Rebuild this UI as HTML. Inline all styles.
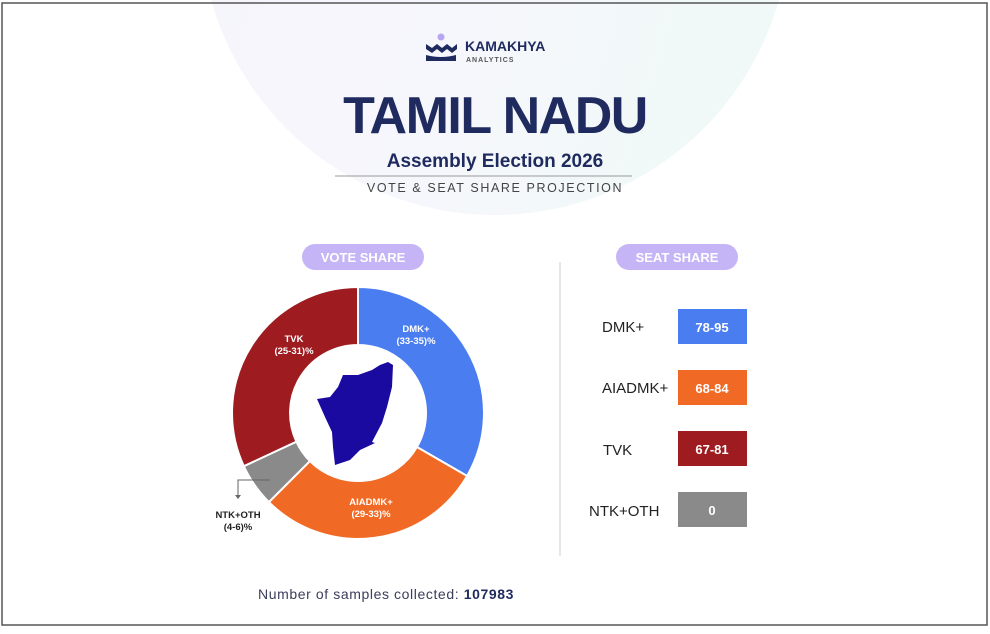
<!DOCTYPE html>
<html><head><meta charset="utf-8"><style>
body{margin:0;width:990px;height:629px;overflow:hidden;background:#fff;font-family:"Liberation Sans",sans-serif}
</style></head><body>
<svg width="990" height="629" viewBox="0 0 990 629" xmlns="http://www.w3.org/2000/svg" font-family="Liberation Sans, sans-serif">
<defs>
<linearGradient id="g" x1="0" y1="0" x2="1" y2="0.3">
<stop offset="0" stop-color="#f5f4fc"/><stop offset="0.6" stop-color="#f6f7fc"/><stop offset="1" stop-color="#f0f9f7"/>
</linearGradient>
</defs>
<rect x="0" y="0" width="990" height="629" fill="#fff"/>
<circle cx="495" cy="-80" r="295" fill="url(#g)"/>
<rect x="2" y="3" width="985" height="622" fill="none" stroke="#555" stroke-width="1.5"/>
<!-- logo -->
<circle cx="441" cy="37" r="3.5" fill="#b9a6f2"/>
<path d="M426 44 l6 4 l5-4 l5 4 l5-4 l5 4 l5-4 v5 l-5 4 l-5-4 l-5 4 l-5-4 l-5 4 l-6-4z" fill="#1f2a5e"/>
<path d="M426 55 q15 4 30 0 v6 h-30z" fill="#1f2a5e"/>
<text x="465" y="51" font-size="14" font-weight="bold" fill="#1f2a5e">KAMAKHYA</text>
<text x="466" y="62" font-size="7" font-weight="bold" fill="#555" letter-spacing="1">ANALYTICS</text>
<text x="495" y="133" text-anchor="middle" font-size="52" font-weight="bold" fill="#1f2a5e" letter-spacing="-1.5">TAMIL NADU</text>
<text x="495" y="167" text-anchor="middle" font-size="19" font-weight="bold" fill="#1f2a5e">Assembly Election 2026</text>
<line x1="335" y1="176" x2="632" y2="176" stroke="#999" stroke-width="1"/>
<text x="495" y="192" text-anchor="middle" font-size="12.5" fill="#444" letter-spacing="1.6">VOTE &amp; SEAT SHARE PROJECTION</text>
<!-- pills -->
<rect x="302" y="244" width="122" height="26" rx="13" fill="#c6b5f6"/>
<text x="363" y="262" text-anchor="middle" font-size="13" font-weight="bold" fill="#fff">VOTE SHARE</text>
<rect x="616" y="244" width="122" height="26" rx="13" fill="#c6b5f6"/>
<text x="677" y="262" text-anchor="middle" font-size="13" font-weight="bold" fill="#fff">SEAT SHARE</text>
<line x1="560" y1="262" x2="560" y2="556" stroke="#ddd" stroke-width="1.5"/>
<!-- donut -->
<g stroke="#fff" stroke-width="2">
<path d="M358 287 A126 126 0 0 1 467.1 476 L416.9 447 A68 68 0 0 0 358 345Z" fill="#4a7ef0"/>
<path d="M467.1 476 A126 126 0 0 1 268.9 502.1 L309.9 461.1 A68 68 0 0 0 416.9 447Z" fill="#f06a25"/>
<path d="M268.9 502.1 A126 126 0 0 1 243.8 466.2 L296.4 441.7 A68 68 0 0 0 309.9 461.1Z" fill="#8a8a8a"/>
<path d="M243.8 466.2 A126 126 0 0 1 358 287 L358 345 A68 68 0 0 0 296.4 441.7Z" fill="#9e1b1f"/>
</g>
<polygon points="388,362 393,365 392,387 387,407 382,423 372,442 375,443 360,450 350,460 335,465 333,447 332,432 325,417 317,399 330,397 338,387 343,375 358,375 372,370 380,365" fill="#1a0aa0"/>
<g font-size="9.5" font-weight="bold" fill="#fff" text-anchor="middle">
<text x="294" y="342">TVK</text><text x="294" y="354">(25-31)%</text>
<text x="416" y="332">DMK+</text><text x="416" y="344">(33-35)%</text>
<text x="371" y="505">AIADMK+</text><text x="371" y="517">(29-33)%</text>
</g>
<path d="M270 480 H238 V497" fill="none" stroke="#666" stroke-width="1"/>
<path d="M235 495 l3 4 l3-4z" fill="#666"/>
<g font-size="9.5" font-weight="bold" fill="#222" text-anchor="middle">
<text x="238" y="518">NTK+OTH</text><text x="238" y="530">(4-6)%</text>
</g>
<!-- seats -->
<g font-size="15" fill="#222">
<text x="602" y="332">DMK+</text>
<text x="602" y="393">AIADMK+</text>
<text x="603" y="455">TVK</text>
<text x="589" y="516">NTK+OTH</text>
</g>
<rect x="678" y="309" width="69" height="35" fill="#4a7ef0"/>
<rect x="678" y="370" width="69" height="35" fill="#f06a25"/>
<rect x="678" y="431" width="69" height="35" fill="#9e1b1f"/>
<rect x="678" y="492" width="69" height="35" fill="#8a8a8a"/>
<g font-size="13" font-weight="bold" fill="#fff" text-anchor="middle">
<text x="712" y="332">78-95</text>
<text x="712" y="393">68-84</text>
<text x="712" y="454">67-81</text>
<text x="712" y="515">0</text>
</g>
<text x="386" y="599" text-anchor="middle" font-size="14" fill="#3a3d5c" letter-spacing="0.6">Number of samples collected: <tspan font-weight="bold" fill="#1f2a5e">107983</tspan></text>
</svg>
</body></html>
